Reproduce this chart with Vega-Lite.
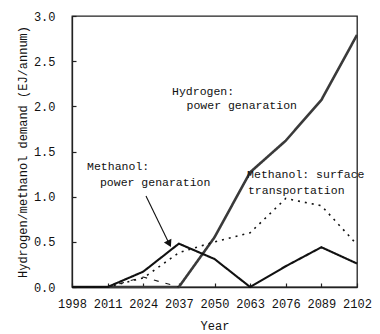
{
  "$schema": "https://vega.github.io/schema/vega-lite/v6.json",
  "width": 285,
  "height": 271,
  "autosize": {"type": "none"},
  "padding": {"left": 72, "top": 16, "right": 23, "bottom": 47},
  "background": "white",
  "config": {
    "view": {"stroke": "#222", "strokeWidth": 1.3},
    "font": "Liberation Mono",
    "axis": {
      "domainColor": "#222",
      "domainWidth": 1.3,
      "tickColor": "#222",
      "tickWidth": 1.2,
      "tickSize": -4,
      "grid": false,
      "labelFont": "Liberation Mono",
      "labelFontSize": 12,
      "labelColor": "#111",
      "titleFont": "Liberation Mono",
      "titleFontSize": 12,
      "titleFontWeight": "normal",
      "titleColor": "#111"
    }
  },
  "datasets": {
    "lines": [
      {"year": 1998, "value": 0, "series": "H2 power"},
      {"year": 2011, "value": 0, "series": "H2 power"},
      {"year": 2024, "value": 0, "series": "H2 power"},
      {"year": 2037, "value": 0, "series": "H2 power"},
      {"year": 2050, "value": 0.55, "series": "H2 power"},
      {"year": 2063, "value": 1.27, "series": "H2 power"},
      {"year": 2076, "value": 1.62, "series": "H2 power"},
      {"year": 2089, "value": 2.07, "series": "H2 power"},
      {"year": 2102, "value": 2.79, "series": "H2 power"},
      {"year": 1998, "value": 0, "series": "MeOH power"},
      {"year": 2011, "value": 0, "series": "MeOH power"},
      {"year": 2024, "value": 0.17, "series": "MeOH power"},
      {"year": 2037, "value": 0.48, "series": "MeOH power"},
      {"year": 2050, "value": 0.31, "series": "MeOH power"},
      {"year": 2063, "value": 0, "series": "MeOH power"},
      {"year": 2076, "value": 0.23, "series": "MeOH power"},
      {"year": 2089, "value": 0.44, "series": "MeOH power"},
      {"year": 2102, "value": 0.26, "series": "MeOH power"},
      {"year": 1998, "value": 0, "series": "MeOH transport"},
      {"year": 2011, "value": 0, "series": "MeOH transport"},
      {"year": 2024, "value": 0.1, "series": "MeOH transport"},
      {"year": 2037, "value": 0.38, "series": "MeOH transport"},
      {"year": 2050, "value": 0.5, "series": "MeOH transport"},
      {"year": 2063, "value": 0.6, "series": "MeOH transport"},
      {"year": 2076, "value": 0.98, "series": "MeOH transport"},
      {"year": 2089, "value": 0.9, "series": "MeOH transport"},
      {"year": 2102, "value": 0.47, "series": "MeOH transport"},
      {"year": 2011, "value": 0, "series": "H2 transport"},
      {"year": 2024, "value": 0.11, "series": "H2 transport"},
      {"year": 2037, "value": 0, "series": "H2 transport"}
    ],
    "labels": [
      {"year": 2034.5, "value": 2.16, "text": "Hydrogen:"},
      {"year": 2039.8, "value": 2.0, "text": "power genaration"},
      {"year": 2003.5, "value": 1.33, "text": "Methanol:"},
      {"year": 2008.2, "value": 1.15, "text": "power genaration"},
      {"year": 2061.9, "value": 1.24, "text": "Methanol: surface"},
      {"year": 2062.2, "value": 1.066, "text": "transportation"}
    ],
    "arrow": [
      {"year": 2025.0, "value": 1.007},
      {"year": 2033.3, "value": 0.49}
    ],
    "head": [
      {"year": 2033.3, "value": 0.49}
    ]
  },
  "layer": [
    {
      "data": {"name": "lines"},
      "mark": {"type": "line", "strokeCap": "butt", "strokeJoin": "miter"},
      "encoding": {
        "x": {
          "field": "year", "type": "quantitative",
          "scale": {"domain": [1998, 2102], "nice": false, "zero": false},
          "axis": {"values": [1998, 2011, 2024, 2037, 2050, 2063, 2076, 2089, 2102], "tickCount": 20, "format": "d", "title": "Year", "labelOverlap": false, "labelFlush": false, "labelPadding": 15, "titleX": 142.5, "titleY": 38, "titleAlign": "center", "titleBaseline": "middle"}
        },
        "y": {
          "field": "value", "type": "quantitative",
          "scale": {"domain": [0, 3], "nice": false},
          "axis": {"values": [0, 0.5, 1, 1.5, 2, 2.5, 3], "tickCount": 20, "format": ".1f", "title": "Hydrogen/methanol demand (EJ/annum)", "labelOverlap": false, "labelFlush": false, "labelPadding": 21, "titleX": -50, "titleY": 135.5, "titleAngle": 270, "titleAlign": "center", "titleBaseline": "middle"}
        },
        "detail": {"field": "series"},
        "color": {
          "field": "series", "type": "nominal", "legend": null,
          "scale": {"domain": ["H2 power", "MeOH power", "MeOH transport", "H2 transport"], "range": ["#3a3a3a", "#111111", "#111111", "#1a1a1a"]}
        },
        "strokeWidth": {
          "field": "series", "type": "nominal", "legend": null,
          "scale": {"domain": ["H2 power", "MeOH power", "MeOH transport", "H2 transport"], "range": [2.6, 1.1, 1.4, 2.6]}
        },
        "strokeDash": {
          "field": "series", "type": "nominal", "legend": null,
          "scale": {"domain": ["H2 power", "MeOH power", "MeOH transport", "H2 transport"], "range": [[1, 0], [1, 0], [2, 5], [5, 7]]}
        }
      }
    },
    {
      "data": {"name": "arrow"},
      "mark": {"type": "line", "color": "#111", "strokeWidth": 1.1},
      "encoding": {
        "x": {"field": "year", "type": "quantitative"},
        "y": {"field": "value", "type": "quantitative"}
      }
    },
    {
      "data": {"name": "head"},
      "mark": {"type": "point", "shape": "triangle", "filled": true, "color": "#111", "opacity": 1, "size": 70, "angle": 153.4},
      "encoding": {
        "x": {"field": "year", "type": "quantitative"},
        "y": {"field": "value", "type": "quantitative"}
      }
    },
    {
      "data": {"name": "labels"},
      "mark": {"type": "text", "align": "left", "baseline": "middle", "font": "Liberation Mono", "fontSize": 11.5, "color": "#111"},
      "encoding": {
        "x": {"field": "year", "type": "quantitative"},
        "y": {"field": "value", "type": "quantitative"},
        "text": {"field": "text"}
      }
    }
  ]
}
